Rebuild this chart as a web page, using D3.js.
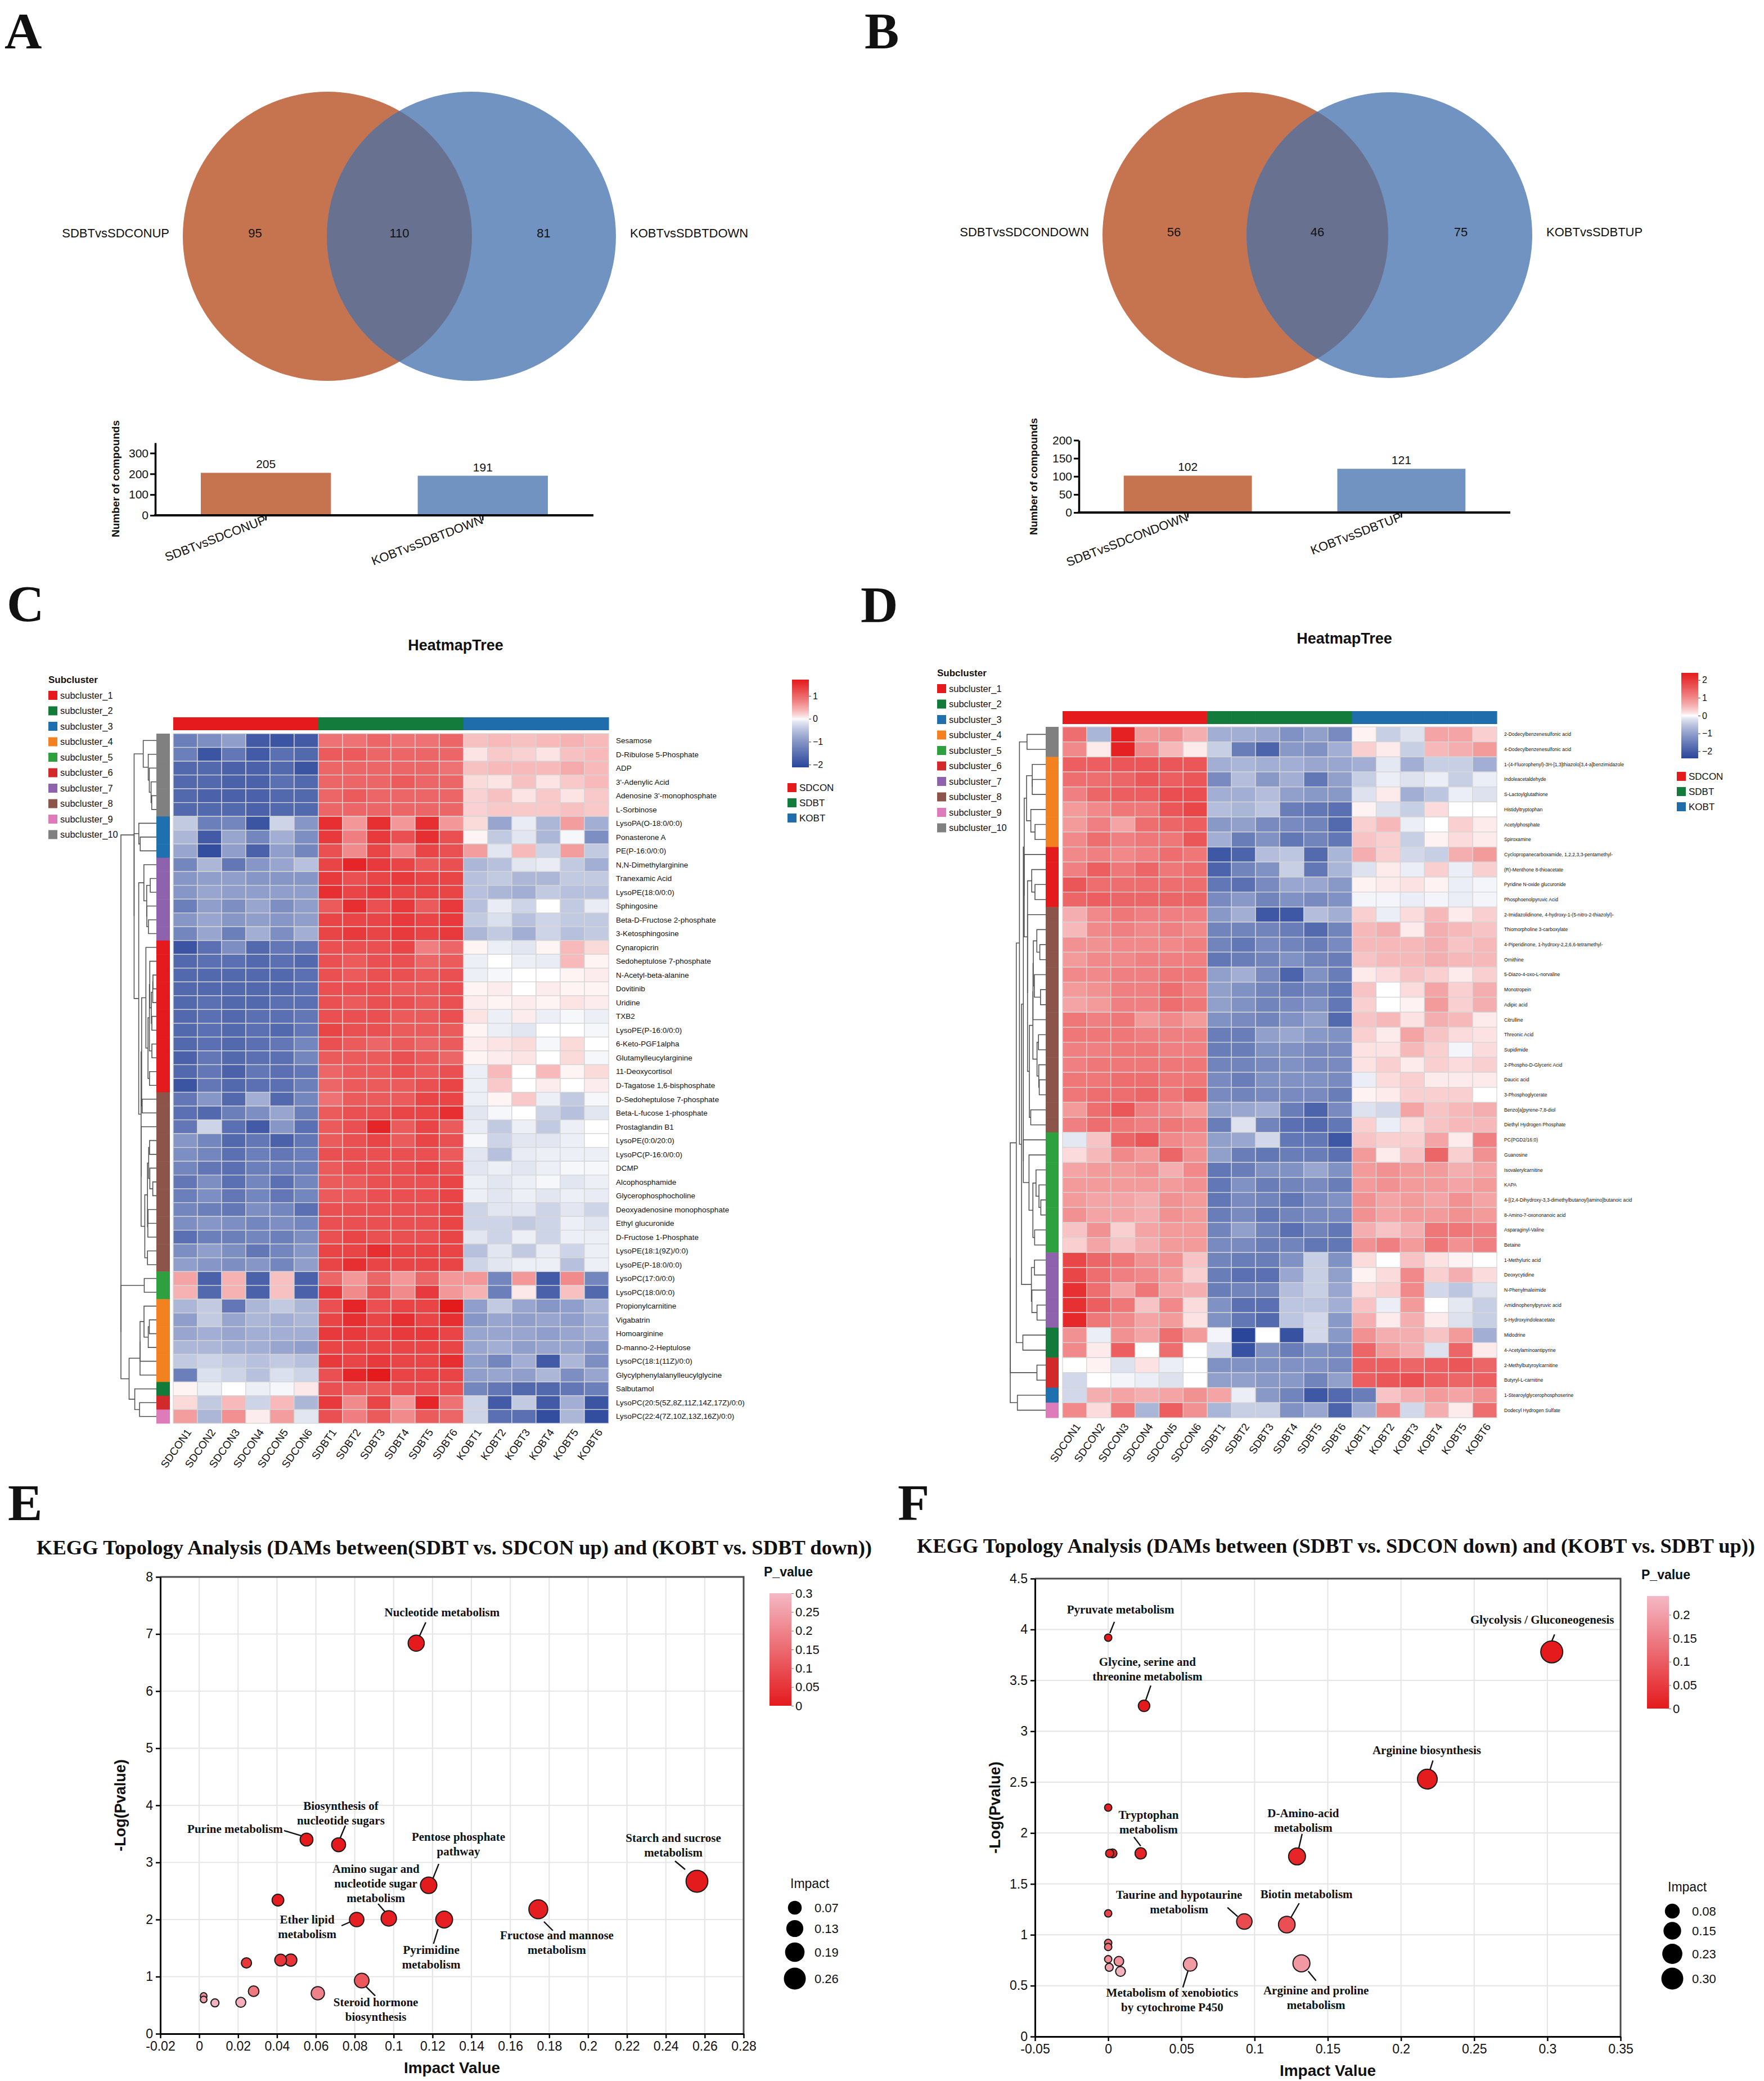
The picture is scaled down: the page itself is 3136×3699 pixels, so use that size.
<!DOCTYPE html>
<html>
<head>
<meta charset="utf-8">
<script src="https://cdn.jsdelivr.net/npm/d3@7"></script>
<style>
body { margin: 0; background: #fff; }
text { font-family: "Liberation Sans", Arial, sans-serif; fill: #111; }
.serif { font-family: "Liberation Serif", "Times New Roman", serif; font-weight: bold; }
.panel { font-family: "Liberation Serif", "Times New Roman", serif; font-weight: bold; font-size: 92px; }
</style>
</head>
<body>
<div id="chart"></div>
<script>

// ---------- data ----------
var vennA_sets = ['SDBTvsSDCONUP', 'KOBTvsSDBTDOWN'];
var vennA_counts = [95, 110, 81];
var barA_values = [205, 191];

var vennB_sets = ['SDBTvsSDCONDOWN', 'KOBTvsSDBTUP'];
var vennB_counts = [56, 46, 75];
var barB_values = [102, 121];

var sampleNames = ['SDCON1','SDCON2','SDCON3','SDCON4','SDCON5','SDCON6',
	'SDBT1','SDBT2','SDBT3','SDBT4','SDBT5','SDBT6',
	'KOBT1','KOBT2','KOBT3','KOBT4','KOBT5','KOBT6'];
var groupNames = ['SDCON', 'SDBT', 'KOBT'];
var sampleGroup = [0,0,0,0,0,0,1,1,1,1,1,1,2,2,2,2,2,2];
var subclusterNames = ['subcluster_1','subcluster_2','subcluster_3','subcluster_4','subcluster_5',
	'subcluster_6','subcluster_7','subcluster_8','subcluster_9','subcluster_10'];

var heatC_rows = ['Sesamose','D-Ribulose 5-Phosphate','ADP',"3'-Adenylic Acid","Adenosine 3'-monophosphate",'L-Sorbinose',
	'LysoPA(O-18:0/0:0)','Ponasterone A','PE(P-16:0/0:0)','N,N-Dimethylarginine','Tranexamic Acid','LysoPE(18:0/0:0)',
	'Sphingosine','Beta-D-Fructose 2-phosphate','3-Ketosphingosine','Cynaropicrin','Sedoheptulose 7-phosphate',
	'N-Acetyl-beta-alanine','Dovitinib','Uridine','TXB2','LysoPE(P-16:0/0:0)','6-Keto-PGF1alpha','Glutamylleucylarginine',
	'11-Deoxycortisol','D-Tagatose 1,6-bisphosphate','D-Sedoheptulose 7-phosphate','Beta-L-fucose 1-phosphate',
	'Prostaglandin B1','LysoPE(0:0/20:0)','LysoPC(P-16:0/0:0)','DCMP','Alcophosphamide','Glycerophosphocholine',
	'Deoxyadenosine monophosphate','Ethyl glucuronide','D-Fructose 1-Phosphate','LysoPE(18:1(9Z)/0:0)','LysoPE(P-18:0/0:0)',
	'LysoPC(17:0/0:0)','LysoPC(18:0/0:0)','Propionylcarnitine','Vigabatrin','Homoarginine','D-manno-2-Heptulose',
	'LysoPC(18:1(11Z)/0:0)','Glycylphenylalanylleucylglycine','Salbutamol','LysoPC(20:5(5Z,8Z,11Z,14Z,17Z)/0:0)',
	'LysoPC(22:4(7Z,10Z,13Z,16Z)/0:0)'];
var heatC_sub = [10,10,10,10,10,10,3,3,3,7,7,7,7,7,7,1,1,1,1,1,1,1,1,1,1,1,
	8,8,8,8,8,8,8,8,8,8,8,8,8,5,5,4,4,4,4,4,4,2,6,9];
var heatC_values = [
	[-1.3,-1.1,-0.9,-1.8,-1.9,-1.8, 0.9,0.9,1.0,0.9,0.9,1.0, 0.3,0.35,0.3,0.35,0.4,0.35],
	[-1.3,-1.9,-1.4,-1.8,-1.5,-1.6, 1.1,1.1,1.0,1.0,1.0,1.0, 0.1,0.25,0.2,0.1,0.3,0.35],
	[-1.6,-1.6,-1.7,-1.7,-1.6,-1.9, 1.0,1.0,1.0,1.0,1.0,0.9, 0.3,0.35,0.35,0.35,0.45,0.35],
	[-1.6,-1.6,-1.7,-1.7,-1.5,-1.6, 1.0,1.0,1.0,1.1,1.0,1.0, 0.15,0.1,0.3,0.1,0.25,0.35],
	[-1.6,-1.7,-1.7,-1.7,-1.6,-1.6, 1.0,1.1,1.0,1.0,1.0,1.0, 0.2,0.3,0.1,0.25,0.1,0.25],
	[-1.6,-1.6,-1.6,-1.7,-1.6,-1.6, 1.0,1.0,1.0,1.0,1.0,1.0, 0.2,0.25,0.25,0.25,0.3,0.25],
	[-0.4,-1.3,-1.2,-1.9,-0.3,-1.0, 1.5,0.6,1.5,0.6,1.5,0.6, 0.15,-0.8,-0.1,-0.6,0.55,-0.7],
	[-0.6,-1.8,-0.8,-1.2,-0.7,-1.1, 1.4,0.8,1.4,1.2,1.5,1.2, 0.03,-0.4,-0.15,-0.6,-0.03,-1.1],
	[-0.8,-2.0,-0.9,-1.7,-0.9,-1.2, 1.2,0.7,1.3,0.8,1.3,1.2, 0.55,-0.15,0.35,-0.3,0.55,-0.4],
	[-1.2,-0.6,-1.4,-1.0,-0.8,-0.5, 1.3,1.6,1.4,1.3,1.1,1.2, -0.6,-0.5,-0.15,-0.1,-0.4,-0.7],
	[-1.0,-0.9,-0.9,-1.0,-1.0,-1.0, 1.4,1.2,1.3,1.4,1.3,1.3, -0.5,-0.4,-0.6,-0.6,-0.4,-0.4],
	[-1.0,-0.8,-0.9,-0.9,-0.9,-0.9, 1.5,1.3,1.4,1.3,1.3,1.3, -0.5,-0.6,-0.7,-0.4,-0.5,-0.5],
	[-1.3,-0.9,-1.1,-0.8,-1.1,-0.9, 1.1,1.5,1.2,1.4,1.1,1.4, -0.5,-0.1,-0.3,0.0,-0.4,-0.1],
	[-1.0,-0.8,-1.0,-0.9,-1.0,-0.9, 1.3,1.3,1.3,1.4,1.3,1.4, -0.4,-0.2,-0.5,-0.3,-0.4,-0.4],
	[-1.2,-0.8,-1.3,-0.7,-1.1,-0.7, 1.3,1.4,1.3,1.4,1.3,1.4, -0.6,-0.4,-0.7,-0.3,-0.5,-0.4],
	[-1.9,-1.5,-1.1,-1.6,-1.4,-1.4, 1.2,1.2,1.2,1.3,0.8,1.0, 0.03,-0.08,-0.15,0.03,0.35,0.15],
	[-1.6,-1.5,-1.5,-1.6,-1.5,-1.6, 1.2,1.1,1.2,1.2,1.0,1.1, -0.08,0.0,-0.08,-0.1,0.35,0.03],
	[-1.6,-1.6,-1.6,-1.6,-1.6,-1.5, 1.2,1.1,1.2,1.2,1.1,1.2, -0.08,-0.03,0.0,0.0,0.03,0.06],
	[-1.6,-1.6,-1.6,-1.6,-1.6,-1.5, 1.2,1.2,1.2,1.1,1.1,1.2, 0.03,0.06,0.0,0.06,0.03,0.03],
	[-1.6,-1.5,-1.6,-1.6,-1.5,-1.5, 1.2,1.1,1.2,1.2,1.1,1.2, 0.06,0.03,0.06,0.03,0.1,0.06],
	[-1.6,-1.5,-1.6,-1.5,-1.5,-1.4, 1.2,1.2,1.2,1.1,1.1,1.2, 0.1,-0.08,0.06,-0.08,-0.03,-0.08],
	[-1.6,-1.5,-1.6,-1.5,-1.6,-1.4, 1.3,1.2,1.2,1.1,1.1,1.1, 0.03,-0.08,-0.15,0.0,0.0,-0.03],
	[-1.6,-1.5,-1.6,-1.5,-1.4,-1.2, 1.2,1.1,1.0,1.1,1.0,1.1, 0.06,0.1,0.15,-0.03,0.15,0.0],
	[-1.7,-1.4,-1.6,-1.5,-1.5,-1.2, 1.1,1.1,1.1,1.2,1.1,1.0, 0.03,0.06,0.1,0.0,0.15,-0.03],
	[-1.6,-1.4,-1.7,-1.4,-1.5,-1.4, 1.0,1.1,1.1,1.2,1.1,1.2, -0.08,0.35,0.0,0.35,0.03,0.15],
	[-1.9,-1.4,-1.6,-1.5,-1.5,-1.3, 1.0,1.1,1.1,1.1,1.2,1.3, -0.08,0.25,0.0,0.06,0.0,0.06],
	[-1.4,-1.0,-1.6,-0.7,-1.6,-1.2, 0.9,1.1,1.1,1.1,1.3,1.3, -0.08,0.03,0.25,-0.08,-0.4,-0.03],
	[-1.5,-1.6,-1.3,-1.1,-0.8,-1.3, 1.1,1.2,1.2,1.3,1.3,1.5, -0.15,-0.03,0.0,-0.3,-0.5,-0.15],
	[-1.4,-0.3,-1.5,-1.8,-1.0,-1.5, 1.1,1.2,1.6,1.1,1.3,1.1, -0.1,-0.4,-0.08,-0.4,-0.08,0.0],
	[-1.0,-1.2,-1.6,-1.4,-1.7,-1.4, 1.1,1.2,1.3,1.1,1.3,1.2, -0.03,-0.3,-0.15,-0.15,-0.08,0.0],
	[-1.1,-1.2,-1.5,-1.3,-1.4,-1.3, 1.2,1.2,1.2,1.2,1.2,1.1, -0.15,-0.5,-0.1,-0.08,-0.08,-0.08],
	[-1.2,-1.4,-1.5,-1.3,-1.3,-1.3, 1.1,1.2,1.2,1.2,1.3,1.2, -0.15,-0.08,-0.15,-0.08,-0.03,-0.03],
	[-1.4,-1.1,-1.5,-1.2,-1.5,-1.2, 1.1,1.1,1.2,1.2,1.2,1.3, -0.08,-0.15,-0.08,-0.03,-0.15,-0.08],
	[-1.3,-1.1,-1.4,-1.2,-1.4,-1.2, 1.1,1.1,1.2,1.2,1.2,1.3, -0.08,-0.15,-0.08,-0.15,-0.08,-0.1],
	[-1.2,-1.3,-1.4,-1.1,-1.2,-1.5, 1.2,1.2,1.2,1.2,1.2,1.3, -0.3,-0.15,-0.15,-0.3,-0.15,-0.3],
	[-1.1,-1.0,-1.1,-1.2,-1.1,-1.2, 1.2,1.2,1.2,1.2,1.2,1.3, -0.3,-0.3,-0.4,-0.3,-0.08,-0.15],
	[-1.5,-1.3,-1.3,-1.2,-1.3,-1.1, 1.2,1.3,1.2,1.2,1.2,1.3, -0.15,-0.3,-0.08,-0.3,-0.08,-0.08],
	[-1.1,-0.9,-1.1,-1.4,-1.2,-1.0, 1.3,1.3,1.5,1.3,1.3,1.3, -0.5,-0.15,-0.4,-0.1,-0.3,-0.08],
	[-0.9,-1.0,-1.1,-1.0,-1.2,-0.9, 1.3,1.5,1.3,1.3,1.3,1.3, -0.3,-0.15,-0.08,-0.08,-0.5,-0.08],
	[0.5,-1.7,0.4,-1.7,0.3,-1.7, 1.0,0.6,1.0,0.6,1.0,0.6, 0.6,-1.2,0.6,-1.8,0.7,-1.2],
	[0.4,-1.6,0.4,-1.7,0.3,-1.7, 1.4,0.7,1.2,0.7,1.4,0.6, 0.4,-1.3,0.08,-1.7,0.3,-1.6],
	[-0.6,-0.4,-1.4,-0.6,-0.4,-0.6, 1.2,1.6,1.2,1.3,1.3,1.7, -0.9,-0.4,-0.8,-1.0,-0.9,-0.6],
	[-0.9,-0.4,-0.8,-0.6,-0.7,-0.6, 1.3,1.5,1.3,1.5,1.3,1.5, -1.0,-0.8,-0.9,-0.8,-0.9,-0.7],
	[-0.8,-0.7,-0.8,-0.7,-0.7,-0.7, 1.4,1.4,1.3,1.4,1.4,1.3, -0.8,-0.8,-0.8,-0.9,-0.8,-0.7],
	[-0.6,-0.6,-0.7,-0.7,-0.8,-0.9, 1.3,1.3,1.3,1.3,1.3,1.3, -0.8,-0.7,-0.9,-0.8,-0.8,-1.0],
	[-0.4,-0.3,-0.4,-0.5,-0.4,-0.5, 1.4,1.3,1.4,1.3,1.3,1.5, -0.9,-1.2,-0.7,-1.8,-0.6,-1.1],
	[-1.3,-0.2,-0.3,-0.5,-0.2,-0.3, 1.2,1.6,1.7,1.3,1.3,1.3, -0.9,-0.8,-0.9,-0.6,-1.1,-0.8],
	[0.03,-0.08,0.0,-0.08,-0.03,0.08, 1.2,1.1,1.1,1.2,1.2,1.2, -1.2,-1.4,-1.6,-1.6,-1.4,-1.3],
	[0.15,-0.4,0.35,-0.3,0.35,-0.6, 1.4,0.7,1.3,0.6,1.6,0.9, -0.3,-1.8,-0.4,-1.8,-0.7,-1.9],
	[0.55,-0.6,0.65,0.06,0.55,-0.15, 1.2,0.8,1.1,0.7,1.1,1.0, -0.3,-1.5,-1.5,-2.0,-0.6,-2.0]
];

var heatD_rows = ['2-Dodecylbenzenesulfonic acid','4-Dodecylbenzenesulfonic acid',
	'1-(4-Fluorophenyl)-3H-[1,3]thiazolo[3,4-a]benzimidazole','Indoleacetaldehyde','S-Lactoylglutathione',
	'Histidyltryptophan','Acetylphosphate','Spiroxamine','Cyclopropanecarboxamide, 1,2,2,3,3-pentamethyl-',
	'(R)-Menthone 8-thioacetate','Pyridine N-oxide glucuronide','Phosphoenolpyruvic Acid',
	'2-Imidazolidinone, 4-hydroxy-1-(5-nitro-2-thiazolyl)-','Thiomorpholine 3-carboxylate',
	'4-Piperidinone, 1-hydroxy-2,2,6,6-tetramethyl-','Ornithine','5-Diazo-4-oxo-L-norvaline','Monotropein',
	'Adipic acid','Citrulline','Threonic Acid','Supidimide','2-Phospho-D-Glyceric Acid','Daucic acid',
	'3-Phosphoglycerate','Benzo[a]pyrene-7,8-diol','Diethyl Hydrogen Phosphate','PC(PGD2/16:0)','Guanosine',
	'Isovalerylcarnitine','KAPA','4-[(2,4-Dihydroxy-3,3-dimethylbutanoyl)amino]butanoic acid',
	'8-Amino-7-oxononanoic acid','Asparaginyl-Valine','Betaine','1-Methyluric acid','Deoxycytidine',
	'N-Phenylmaleimide','Amidinophenylpyruvic acid','5-Hydroxyindoleacetate','Midodrine',
	'4-Acetylaminoantipyrine','2-Methylbutyroylcarnitine','Butyryl-L-carnitine',
	'1-Stearoylglycerophosphoserine','Dodecyl Hydrogen Sulfate'];
var heatD_sub = [10,10,4,4,4,4,4,4,1,1,1,1,8,8,8,8,8,8,8,8,8,8,8,8,8,8,8,
	5,5,5,5,5,5,5,5,7,7,7,7,7,2,2,6,6,3,9];
var heatD_values = [
	[1.3,-0.7,2.3,0.8,0.9,0.6, -0.8,-0.8,-0.9,-1.2,-1.0,-1.3, 0.05,-0.4,-0.2,0.7,0.7,0.3],
	[1.0,0.1,2.3,1.0,0.5,0.1, -0.4,-1.5,-1.9,-1.1,-1.2,-0.8, 0.3,0.1,-0.4,0.5,0.6,0.8],
	[1.5,1.5,1.6,1.6,1.6,1.6, -0.8,-0.7,-0.8,-0.8,-0.9,-0.9, -0.8,-0.15,-0.8,-0.4,-0.4,-0.8],
	[1.3,1.3,1.4,1.6,1.5,1.6, -1.3,-0.6,-1.1,-0.8,-1.6,-1.0, -0.4,-0.1,-0.2,-0.1,-0.4,-0.1],
	[1.1,1.4,1.5,1.5,1.7,1.7, -0.8,-0.8,-0.6,-1.0,-1.1,-1.1, -0.2,0.1,-0.8,-0.5,-0.1,-0.2],
	[0.8,1.0,1.2,1.2,1.6,1.8, -0.6,-0.7,-0.5,-1.5,-1.6,-1.7, 0.05,-0.2,-0.4,0.2,0.0,0.0],
	[0.8,1.1,0.7,1.3,1.4,1.5, -1.1,-1.0,-1.3,-1.3,-1.4,-1.8, 0.3,0.5,-0.1,0.0,0.3,0.1],
	[1.0,1.3,1.1,1.2,1.2,1.6, -0.8,-1.5,-1.2,-1.6,-1.4,-1.6, 0.4,0.3,-0.4,0.05,0.2,0.1],
	[1.0,1.1,1.0,1.1,1.3,1.2, -2.1,-1.9,-0.6,-0.5,-1.8,-0.7, 0.6,0.3,-0.3,-0.4,0.6,0.8],
	[1.1,1.5,1.2,1.4,1.2,1.3, -1.9,-1.4,-1.2,-0.4,-1.6,-0.7, -0.2,0.1,-0.1,0.3,-0.1,0.3],
	[1.6,1.3,1.3,1.3,1.3,1.3, -1.6,-1.7,-1.3,-0.9,-0.9,-1.1, 0.05,0.1,0.15,0.05,-0.1,-0.05],
	[1.4,1.5,1.4,1.4,1.4,1.4, -1.3,-1.1,-1.4,-1.2,-1.3,-1.2, -0.05,-0.05,-0.1,-0.05,-0.1,-0.05],
	[0.6,1.0,1.2,1.1,1.1,1.1, -1.1,-0.8,-2.1,-2.1,-0.6,-0.8, 0.3,-0.1,0.2,0.5,0.1,0.3],
	[0.5,1.0,1.1,1.0,1.1,1.0, -1.4,-1.4,-1.4,-1.5,-1.8,-1.4, 0.5,0.6,0.1,0.6,0.5,0.4],
	[0.9,0.9,1.0,1.0,1.0,1.1, -1.4,-1.6,-1.3,-1.4,-1.5,-1.3, 0.5,0.5,0.5,0.6,0.4,0.5],
	[0.8,1.0,1.0,1.1,1.1,1.1, -1.6,-1.5,-1.4,-1.2,-1.4,-1.5, 0.4,0.5,0.5,0.6,0.5,0.5],
	[1.0,1.0,1.1,1.1,1.2,1.2, -1.0,-0.8,-1.3,-1.9,-1.2,-1.5, 0.1,0.2,0.4,0.3,0.1,0.3],
	[0.8,0.9,1.1,1.1,1.3,1.1, -1.0,-1.2,-1.4,-1.5,-1.4,-1.6, 0.4,0.0,0.2,0.7,0.3,0.6],
	[0.7,0.8,1.1,1.1,1.3,1.2, -1.0,-1.2,-1.4,-1.3,-1.2,-1.6, 0.3,0.0,0.05,0.8,0.3,0.6],
	[1.2,1.1,1.2,0.8,1.0,0.8, -1.2,-1.3,-1.4,-1.2,-1.0,-1.8, 0.4,0.5,0.15,0.6,0.5,0.1],
	[1.2,1.2,1.2,1.1,1.1,1.1, -1.5,-1.5,-1.0,-0.9,-1.1,-1.2, 0.3,0.1,0.7,0.4,0.2,0.15],
	[1.1,1.1,1.2,1.2,1.1,1.1, -1.5,-1.5,-1.2,-1.2,-1.3,-1.3, 0.15,0.15,0.5,0.3,-0.05,0.2],
	[1.1,1.2,1.2,1.2,1.2,1.2, -1.4,-1.4,-1.3,-1.2,-1.3,-1.3, 0.15,0.3,0.1,0.3,0.2,0.3],
	[1.2,1.2,1.3,1.3,1.2,1.2, -1.3,-1.5,-1.2,-1.2,-1.2,-1.3, -0.1,0.2,0.3,0.1,0.1,0.1],
	[1.2,1.3,1.3,1.4,1.2,1.4, -1.3,-1.4,-1.3,-1.3,-1.3,-1.5, 0.05,0.1,0.3,0.3,0.3,0.0],
	[0.8,1.3,1.6,1.1,1.0,0.8, -1.0,-0.9,-0.8,-1.5,-1.9,-1.3, -0.2,-0.3,0.7,0.4,0.5,0.6],
	[1.1,1.3,1.2,1.1,1.2,1.1, -1.5,-0.2,-1.4,-1.7,-1.8,-1.6, 0.3,-0.1,0.2,0.4,0.5,0.5],
	[-0.15,0.4,1.4,1.6,1.0,0.9, -1.0,-0.9,-0.3,-1.6,-1.6,-2.1, 0.4,0.3,0.3,0.7,0.1,1.1],
	[0.2,0.5,1.0,0.8,1.4,0.9, -1.0,-1.5,-1.6,-1.5,-1.5,-1.7, 0.8,0.1,0.4,1.4,0.3,0.9],
	[0.7,0.8,0.8,0.9,0.6,1.0, -1.6,-1.5,-1.2,-1.2,-0.9,-1.2, 0.8,0.9,0.8,0.8,0.6,0.7],
	[0.8,0.8,0.8,0.8,0.8,0.9, -1.6,-1.2,-1.5,-1.4,-1.3,-1.5, 0.8,0.9,0.8,0.8,0.7,0.8],
	[0.8,0.7,0.7,0.6,0.9,0.8, -1.6,-1.3,-1.4,-1.6,-1.3,-1.2, 0.9,0.7,0.8,0.7,0.9,0.7],
	[0.9,0.7,0.7,0.6,0.9,0.8, -1.5,-1.3,-1.6,-1.4,-1.3,-1.3, 0.9,0.7,0.8,0.8,0.9,0.8],
	[0.4,0.9,0.3,0.7,0.8,0.8, -1.4,-1.0,-1.4,-1.7,-1.4,-1.6, 0.6,0.4,0.6,1.2,1.2,1.1],
	[0.3,0.7,0.4,0.6,0.8,0.8, -1.3,-1.3,-1.5,-1.4,-1.6,-1.6, 0.9,1.1,0.8,1.2,0.9,1.1],
	[1.8,1.4,1.2,0.9,0.9,0.4, -1.4,-1.5,-1.5,-1.2,-0.4,-1.2, 0.2,0.0,0.4,0.15,0.05,0.0],
	[1.8,1.3,1.1,1.0,0.8,0.3, -1.5,-1.7,-1.7,-0.9,-0.4,-1.0, 0.05,0.2,1.0,0.3,0.6,0.2],
	[2.1,1.3,0.7,1.2,0.7,0.6, -1.5,-1.4,-1.4,-0.6,-0.4,-0.9, 0.2,0.3,1.0,-0.3,-0.5,-0.2],
	[2.1,1.5,1.2,0.4,1.0,0.2, -1.2,-1.7,-1.7,-0.5,-0.5,-0.8, 0.4,-0.1,0.8,0.0,-0.15,-0.4],
	[2.2,1.2,1.0,0.7,0.8,0.15, -1.2,-1.6,-1.8,-0.5,-0.3,-1.1, 0.6,0.1,0.6,0.1,-0.2,-0.4],
	[0.9,-0.1,0.9,0.7,1.3,0.8, -0.05,-2.4,0.0,-2.2,-0.3,-1.1, 0.9,0.6,0.6,0.4,0.8,-0.8],
	[1.0,0.1,1.5,0.0,1.3,0.0, -0.3,-2.2,-1.2,-1.5,-1.2,-1.3, 1.4,0.8,0.6,-0.2,1.4,0.1],
	[0.0,0.05,-0.2,0.15,-0.1,0.0, -1.2,-1.2,-1.2,-1.2,-1.2,-1.3, 1.5,1.5,1.4,1.5,1.6,1.4],
	[-0.3,0.0,-0.05,-0.1,-0.2,0.0, -1.0,-1.0,-1.1,-1.1,-1.4,-1.0, 1.5,1.6,1.7,1.5,1.4,1.5],
	[-0.3,0.6,0.7,0.6,0.7,0.9, 0.7,-0.1,-1.1,-1.4,-2.1,-1.8, -1.5,0.4,0.6,0.8,0.7,0.9],
	[1.0,0.2,1.2,-0.7,1.5,0.9, -0.7,-0.4,-0.4,-1.2,-0.9,-1.9, -0.8,1.0,-0.3,0.6,0.1,1.3]
];

var keggE_names = ['Nucleotide metabolism','Purine metabolism','Biosynthesis of nucleotide sugars',
	'Pentose phosphate pathway','Starch and sucrose metabolism','','Ether lipid metabolism',
	'Amino sugar and nucleotide sugar metabolism','Pyrimidine metabolism','Fructose and mannose metabolism',
	'','','','Steroid hormone biosynthesis','','','','','',''];
var keggE_impact = [0.1116,0.0552,0.0717,0.118,0.256,0.0405,0.081,0.0975,0.126,0.1744,
	0.0243,0.0419,0.0471,0.0836,0.061,0.028,0.0214,0.0081,0.0023,0.0023];
var keggE_logp = [6.84,3.40,3.31,2.60,2.67,2.34,2.00,2.02,2.00,2.18,
	1.24,1.29,1.29,0.93,0.71,0.745,0.55,0.54,0.66,0.60];

var keggF_names = ['Pyruvate metabolism','Glycine, serine and threonine metabolism','Glycolysis / Gluconeogenesis',
	'Arginine biosynthesis','','','','Tryptophan metabolism','D-Amino-acid metabolism','',
	'Taurine and hypotaurine metabolism','Biotin metabolism','','','','','','',
	'Metabolism of xenobiotics by cytochrome P450','Arginine and proline metabolism'];
var keggF_impact = [0.0,0.0245,0.303,0.218,0.0,0.001,0.003,0.0222,0.129,0.0,
	0.093,0.122,0.0,0.0,0.0,0.0073,0.0007,0.0084,0.056,0.132];
var keggF_logp = [3.92,3.25,3.78,2.53,2.25,1.80,1.80,1.80,1.77,1.21,
	1.13,1.10,0.92,0.88,0.76,0.74,0.68,0.64,0.71,0.72];

// ---------- look ----------
var vennColors = { left: '#C67450', right: '#7193C1', both: '#68718F' };
var groupColors = ['#E41A1C', '#137B3B', '#1F6DAB'];
var subclusterColors = ['#E41A1C','#137B3A','#1F70AE','#F4811F','#2FA03F','#D22A2A','#8F62AE','#8B5549','#DE7BBB','#808080'];

// label layout for bubble charts (pixel offsets from the bubble)
var labelLayoutE = {
	'Nucleotide metabolism': { lines: ['Nucleotide metabolism'], dx: 46, dy: -55, lead: [17,-37,6,-13] },
	'Purine metabolism': { lines: ['Purine metabolism'], dx: -127, dy: -19, lead: [-40,-16,-10,-7] },
	'Biosynthesis of nucleotide sugars': { lines: ['Biosynthesis of','nucleotide sugars'], dx: 4, dy: -69, lead: [12,-34,2,-10] },
	'Pentose phosphate pathway': { lines: ['Pentose phosphate','pathway'], dx: 53, dy: -86, lead: [18,-38,8,-13] },
	'Starch and sucrose metabolism': { lines: ['Starch and sucrose','metabolism'], dx: -42, dy: -77, lead: [-39,-36,-21,-21] },
	'Amino sugar and nucleotide sugar metabolism': { lines: ['Amino sugar and','nucleotide sugar','metabolism'], dx: -23, dy: -88, lead: [-19,-26,-7,-12] },
	'Ether lipid metabolism': { lines: ['Ether lipid','metabolism'], dx: -88, dy: 0, lead: [-27,11,-11,4] },
	'Pyrimidine metabolism': { lines: ['Pyrimidine','metabolism'], dx: -23, dy: 54, lead: [-19,43,-11,17] },
	'Fructose and mannose metabolism': { lines: ['Fructose and mannose','metabolism'], dx: 33, dy: 46, lead: [26,38,10,22] },
	'Steroid hormone biosynthesis': { lines: ['Steroid hormone','biosynthesis'], dx: 25, dy: 38, lead: [24,27,8,11] }
};
var labelLayoutF = {
	'Pyruvate metabolism': { lines: ['Pyruvate metabolism'], dx: 22, dy: -50, lead: [11,-28,3,-8] },
	'Glycine, serine and threonine metabolism': { lines: ['Glycine, serine and','threonine metabolism'], dx: 6, dy: -78, lead: [12,-36,3,-10] },
	'Glycolysis / Gluconeogenesis': { lines: ['Glycolysis / Gluconeogenesis'], dx: -17, dy: -58, lead: [5,-31,-2,-14] },
	'Arginine biosynthesis': { lines: ['Arginine biosynthesis'], dx: -1, dy: -52, lead: [10,-33,4,-14] },
	'Tryptophan metabolism': { lines: ['Tryptophan','metabolism'], dx: 14, dy: -69, lead: [-12,-29,0,-13] },
	'D-Amino-acid metabolism': { lines: ['D-Amino-acid','metabolism'], dx: 11, dy: -77, lead: [9,-40,3,-14] },
	'Taurine and hypotaurine metabolism': { lines: ['Taurine and hypotaurine','metabolism'], dx: -116, dy: -48, lead: [-30,-25,-12,-9] },
	'Biotin metabolism': { lines: ['Biotin metabolism'], dx: 35, dy: -54, lead: [22,-38,7,-12] },
	'Metabolism of xenobiotics by cytochrome P450': { lines: ['Metabolism of xenobiotics','by cytochrome P450'], dx: -32, dy: 50, lead: [-13,41,-4,12] },
	'Arginine and proline metabolism': { lines: ['Arginine and proline','metabolism'], dx: 26, dy: 48, lead: [26,31,12,14] }
};

var W = 3136, H = 3699;
var svg = d3.select('#chart').append('svg')
	.attr('width', W).attr('height', H)
	.attr('viewBox', '0 0 ' + W + ' ' + H);
svg.append('rect').attr('width', W).attr('height', H).attr('fill', '#fff');
var defs = svg.append('defs');

// panel letters
[['A', 8, 86], ['B', 1537, 86], ['C', 12, 1104], ['D', 1530, 1106], ['E', 14, 2702], ['F', 1596, 2702]]
	.forEach(function (p) {
		svg.append('text').attr('class', 'panel').attr('x', p[1]).attr('y', p[2]).text(p[0]);
	});

// ---------- Venn + bars ----------
function drawVenn(cfg) {
	var g = svg.append('g');
	var id = 'clip' + cfg.key;
	defs.append('clipPath').attr('id', id)
		.append('circle').attr('cx', cfg.cxL).attr('cy', cfg.cy).attr('r', cfg.r);
	g.append('circle').attr('cx', cfg.cxL).attr('cy', cfg.cy).attr('r', cfg.r).attr('fill', vennColors.left);
	g.append('circle').attr('cx', cfg.cxR).attr('cy', cfg.cy).attr('r', cfg.r).attr('fill', vennColors.right);
	g.append('circle').attr('cx', cfg.cxR).attr('cy', cfg.cy).attr('r', cfg.r)
		.attr('fill', vennColors.both).attr('clip-path', 'url(#' + id + ')');

	var ty = cfg.cy - 6;
	var numX = [cfg.cxL - cfg.r / 2, (cfg.cxL + cfg.cxR) / 2, cfg.cxR + cfg.r / 2];
	g.selectAll('text.num').data(cfg.counts).enter().append('text')
		.attr('class', 'num')
		.attr('x', function (d, i) { return numX[i]; })
		.attr('y', ty).attr('dy', '0.35em')
		.attr('text-anchor', 'middle').style('font-size', '22px')
		.text(function (d) { return d; });
	g.append('text').attr('x', cfg.cxL - cfg.r - 24).attr('y', ty).attr('dy', '0.35em')
		.attr('text-anchor', 'end').style('font-size', '22px').text(cfg.sets[0]);
	g.append('text').attr('x', cfg.cxR + cfg.r + 25).attr('y', ty).attr('dy', '0.35em')
		.attr('text-anchor', 'start').style('font-size', '22px').text(cfg.sets[1]);
}

function drawBars(cfg) {
	var g = svg.append('g');
	var x = d3.scaleBand().domain(cfg.sets).range([cfg.x0, cfg.x1]).paddingInner(0.4).paddingOuter(0.21);
	var y = d3.scaleLinear().domain([0, cfg.max]).range([cfg.yb, cfg.yt]);

	g.selectAll('rect.bar').data(cfg.values).enter().append('rect')
		.attr('class', 'bar')
		.attr('x', function (d, i) { return x(cfg.sets[i]); })
		.attr('y', function (d) { return y(d); })
		.attr('width', x.bandwidth())
		.attr('height', function (d) { return y(0) - y(d); })
		.attr('fill', function (d, i) { return i === 0 ? vennColors.left : vennColors.right; });

	g.selectAll('text.val').data(cfg.values).enter().append('text')
		.attr('class', 'val')
		.attr('x', function (d, i) { return x(cfg.sets[i]) + x.bandwidth() / 2; })
		.attr('y', function (d) { return y(d) - 8; })
		.attr('text-anchor', 'middle').style('font-size', '21px')
		.text(function (d) { return d; });

	var ax = g.append('g').attr('transform', 'translate(' + cfg.x0 + ',0)')
		.call(d3.axisLeft(y).tickValues(cfg.ticks).tickSize(9).tickSizeOuter(0).tickPadding(3));
	ax.select('.domain').attr('stroke-width', 3.5);
	ax.selectAll('.tick line').attr('stroke-width', 3);
	ax.selectAll('.tick text').style('font-size', '21px').attr('fill', '#111');

	g.append('line').attr('x1', cfg.x0 - 2).attr('x2', cfg.x1).attr('y1', cfg.yb).attr('y2', cfg.yb)
		.attr('stroke', '#000').attr('stroke-width', 4);

	cfg.sets.forEach(function (s) {
		var cx = x(s) + x.bandwidth() / 2;
		g.append('line').attr('x1', cx).attr('x2', cx).attr('y1', cfg.yb).attr('y2', cfg.yb + 9)
			.attr('stroke', '#000').attr('stroke-width', 2.5);
		g.append('text')
			.attr('transform', 'translate(' + (cx + 2) + ',' + (cfg.yb + 14) + ') rotate(-21)')
			.attr('text-anchor', 'end').style('font-size', '22px').text(s);
	});

	g.append('text')
		.attr('transform', 'translate(' + cfg.titleX + ',' + cfg.titleY + ') rotate(-90)')
		.attr('text-anchor', 'middle').style('font-size', '19px').style('font-weight', 'bold')
		.text('Number of compounds');
}

drawVenn({ key: 'A', cxL: 582, cxR: 838, cy: 420, r: 257, sets: vennA_sets, counts: vennA_counts });
drawVenn({ key: 'B', cxL: 2214, cxR: 2470, cy: 418, r: 254, sets: vennB_sets, counts: vennB_counts });
drawBars({ sets: vennA_sets, values: barA_values, x0: 276, x1: 1055, yb: 916, yt: 787, max: 350,
	ticks: [0, 100, 200, 300], titleX: 212, titleY: 851 });
drawBars({ sets: vennB_sets, values: barB_values, x0: 1918, x1: 2685, yb: 911, yt: 782.5, max: 200,
	ticks: [0, 50, 100, 150, 200], titleX: 1844, titleY: 847 });

// ---------- heatmaps ----------
// contiguous agglomerative clustering, keeps the row order of the figure
function rowTree(values) {
	var dist = values.map(function (a) {
		return values.map(function (b) {
			return Math.sqrt(d3.sum(a, function (v, k) { return (v - b[k]) * (v - b[k]); }));
		});
	});
	var nodes = values.map(function (v, i) { return { leaves: [i], h: 0, pos: i }; });
	while (nodes.length > 1) {
		var best = 0, bd = Infinity;
		for (var i = 0; i < nodes.length - 1; i++) {
			var a = nodes[i], b = nodes[i + 1];
			var d = d3.mean(a.leaves, function (p) { return d3.mean(b.leaves, function (q) { return dist[p][q]; }); });
			if (d < bd) { bd = d; best = i; }
		}
		var l = nodes[best], r = nodes[best + 1];
		nodes.splice(best, 2, {
			leaves: l.leaves.concat(r.leaves),
			h: Math.max(bd, l.h, r.h),
			pos: (l.pos + r.pos) / 2,
			children: [l, r]
		});
	}
	return nodes[0];
}

// white in the middle, ramps faster near zero like the figure's key
function heatColor(lo, hi) {
	var toRed = d3.interpolateRgb('#FFFFFF', '#E41A1C');
	var toBlue = d3.interpolateRgb('#FFFFFF', '#2A469B');
	return function (v) {
		if (v >= 0) return toRed(Math.pow(Math.min(v / hi, 1), 0.75));
		return toBlue(Math.pow(Math.min(v / lo, 1), 0.75));
	};
}

function drawHeatmap(cfg) {
	var g = svg.append('g');
	var n = cfg.rows.length;
	var x = d3.scaleBand().domain(sampleNames).range([cfg.x0, cfg.x1]);
	var y = d3.scaleBand().domain(d3.range(n)).range([cfg.y0, cfg.y1]);
	var color = heatColor(cfg.lo, cfg.hi);

	// title
	g.append('text').attr('x', cfg.titleX).attr('y', cfg.titleY).attr('text-anchor', 'middle')
		.style('font-size', '27px').style('font-weight', 'bold').text('HeatmapTree');

	// column group bar
	g.selectAll('rect.grp').data(sampleNames).enter().append('rect')
		.attr('class', 'grp')
		.attr('x', function (d) { return x(d); })
		.attr('y', cfg.barY0).attr('width', x.bandwidth() + 0.6).attr('height', cfg.barY1 - cfg.barY0)
		.attr('fill', function (d, i) { return groupColors[sampleGroup[i]]; });

	// cells
	var rowsG = g.selectAll('g.row').data(cfg.values).enter().append('g').attr('class', 'row');
	rowsG.selectAll('rect').data(function (d, i) { return d.map(function (v, j) { return { v: v, i: i, j: j }; }); })
		.enter().append('rect')
		.attr('x', function (d) { return x(sampleNames[d.j]); })
		.attr('y', function (d) { return y(d.i); })
		.attr('width', x.bandwidth()).attr('height', y.bandwidth())
		.attr('fill', function (d) { return color(d.v); })
		.attr('stroke', '#d6d6d6').attr('stroke-width', 1.3);

	// row labels
	g.selectAll('text.rl').data(cfg.rows).enter().append('text')
		.attr('class', 'rl')
		.attr('x', cfg.x1 + 13)
		.attr('y', function (d, i) { return y(i) + y.bandwidth() / 2; })
		.attr('dy', '0.35em').style('font-size', cfg.rowFont + 'px').attr('fill', '#222')
		.text(function (d) { return d; });

	// column labels
	g.selectAll('text.cl').data(sampleNames).enter().append('text')
		.attr('class', 'cl')
		.attr('transform', function (d) {
			return 'translate(' + (x(d) + x.bandwidth() / 2 + 6) + ',' + (cfg.y1 + 12) + ') rotate(-55)';
		})
		.attr('text-anchor', 'end').attr('dy', '0.35em').style('font-size', '19px')
		.text(function (d) { return d; });

	// subcluster side bar
	g.selectAll('rect.sub').data(cfg.sub).enter().append('rect')
		.attr('class', 'sub')
		.attr('x', cfg.subX0).attr('width', cfg.subX1 - cfg.subX0)
		.attr('y', function (d, i) { return y(i); })
		.attr('height', y.bandwidth() + 0.5)
		.attr('fill', function (d) { return subclusterColors[d - 1]; });

	// dendrogram
	var root = rowTree(cfg.values);
	var hx = d3.scalePow().exponent(0.8).domain([0, root.h]).range([cfg.subX0, cfg.dendX0]);
	var py = function (p) { return cfg.y0 + (p + 0.5) * y.step(); };
	var dg = g.append('g').attr('fill', 'none').attr('stroke', '#555').attr('stroke-width', 1.6);
	(function walk(node) {
		if (!node.children) return;
		var a = node.children[0], b = node.children[1], xn = hx(node.h);
		dg.append('path').attr('d',
			'M' + hx(a.h) + ',' + py(a.pos) + 'H' + xn + 'V' + py(b.pos) + 'H' + hx(b.h));
		walk(a); walk(b);
	})(root);

	// subcluster legend
	g.append('text').attr('x', cfg.legX).attr('y', cfg.legY).style('font-size', '17px')
		.style('font-weight', 'bold').text('Subcluster');
	var items = g.selectAll('g.leg').data(subclusterNames).enter().append('g')
		.attr('class', 'leg')
		.attr('transform', function (d, i) { return 'translate(' + cfg.legX + ',' + (cfg.legY + 22 + i * 27.5) + ')'; });
	items.append('rect').attr('y', -8).attr('width', 16).attr('height', 16)
		.attr('fill', function (d, i) { return subclusterColors[i]; });
	items.append('text').attr('x', 21).attr('dy', '0.35em').style('font-size', '16.5px').text(function (d) { return d; });

	// colour key
	var gid = 'grad' + cfg.key;
	var grad = defs.append('linearGradient').attr('id', gid).attr('x1', 0).attr('x2', 0).attr('y1', 0).attr('y2', 1);
	d3.range(0, 1.0001, 0.025).forEach(function (t) {
		grad.append('stop').attr('offset', t).attr('stop-color', color(cfg.hi + (cfg.lo - cfg.hi) * t));
	});
	var ck = d3.scaleLinear().domain([cfg.hi, cfg.lo]).range([cfg.keyY0, cfg.keyY1]);
	g.append('rect').attr('x', cfg.keyX).attr('y', cfg.keyY0).attr('width', 30).attr('height', cfg.keyY1 - cfg.keyY0)
		.attr('fill', 'url(#' + gid + ')');
	var kax = g.append('g').attr('transform', 'translate(' + (cfg.keyX + 30) + ',0)')
		.call(d3.axisRight(ck).tickValues(cfg.keyTicks).tickSize(4).tickSizeOuter(0).tickFormat(d3.format('d')));
	kax.select('.domain').remove();
	kax.selectAll('.tick line').attr('stroke', '#444');
	kax.selectAll('.tick text').style('font-size', '16px').attr('fill', '#111');

	// group legend
	var gl = g.selectAll('g.gl').data(groupNames).enter().append('g')
		.attr('class', 'gl')
		.attr('transform', function (d, i) { return 'translate(' + cfg.grpX + ',' + (cfg.grpY + i * 27) + ')'; });
	gl.append('rect').attr('y', -8).attr('width', 16).attr('height', 16)
		.attr('fill', function (d, i) { return groupColors[i]; });
	gl.append('text').attr('x', 21).attr('dy', '0.35em').style('font-size', '17px').text(function (d) { return d; });
}

drawHeatmap({ key: 'C', rows: heatC_rows, values: heatC_values, sub: heatC_sub,
	x0: 308, x1: 1082, y0: 1304, y1: 2530, barY0: 1275, barY1: 1298,
	subX0: 278, subX1: 302, dendX0: 215, rowFont: 13.5,
	titleX: 810, titleY: 1156, legX: 86, legY: 1214,
	lo: -2.12, hi: 1.71, keyX: 1408, keyY0: 1208, keyY1: 1364, keyTicks: [1, 0, -1, -2],
	grpX: 1400, grpY: 1400 });

drawHeatmap({ key: 'D', rows: heatD_rows, values: heatD_values, sub: heatD_sub,
	x0: 1889, x1: 2661, y0: 1292, y1: 2520, barY0: 1264, barY1: 1287,
	subX0: 1859, subX1: 1882, dendX0: 1796, rowFont: 8.6,
	titleX: 2390, titleY: 1144, legX: 1666, legY: 1202,
	lo: -2.4, hi: 2.4, keyX: 2989, keyY0: 1196, keyY1: 1348, keyTicks: [2, 1, 0, -1, -2],
	grpX: 2981, grpY: 1380 });

// ---------- KEGG bubble charts ----------
function drawKegg(cfg) {
	var g = svg.append('g');
	var x = d3.scaleLinear().domain(cfg.xDomain).range([cfg.x0, cfg.x1]);
	var y = d3.scaleLinear().domain(cfg.yDomain).range([cfg.yb, cfg.yt]);
	var fill = d3.scaleLinear().domain([0, cfg.pMax]).range(['#E41A1C', '#F4B9C5']).clamp(true);
	var r = d3.scaleSqrt().domain([0, cfg.impMax]).range(cfg.rRange);

	g.append('text').attr('class', 'serif').attr('x', cfg.titleX0).attr('y', cfg.titleY)
		.attr('textLength', cfg.titleW).attr('lengthAdjust', 'spacingAndGlyphs')
		.style('font-size', '35px').text(cfg.title);

	// grid
	g.selectAll('line.gx').data(cfg.xTicks).enter().append('line')
		.attr('x1', function (d) { return x(d); }).attr('x2', function (d) { return x(d); })
		.attr('y1', cfg.yb).attr('y2', cfg.yt).attr('stroke', '#e6e6e6').attr('stroke-width', 2.2);
	g.selectAll('line.gy').data(cfg.yTicks).enter().append('line')
		.attr('y1', function (d) { return y(d); }).attr('y2', function (d) { return y(d); })
		.attr('x1', cfg.x0).attr('x2', cfg.x1).attr('stroke', '#e6e6e6').attr('stroke-width', 2.2);
	g.append('path').attr('d', 'M' + cfg.x0 + ',' + cfg.yt + 'H' + cfg.x1 + 'V' + cfg.yb)
		.attr('fill', 'none').attr('stroke', '#4a4a4a').attr('stroke-width', 3);

	var fmt = function (d) { return String(+d.toFixed(2)); };
	var xa = g.append('g').attr('transform', 'translate(0,' + cfg.yb + ')')
		.call(d3.axisBottom(x).tickValues(cfg.xTicks).tickSize(8).tickSizeOuter(0).tickFormat(fmt).tickPadding(6));
	var ya = g.append('g').attr('transform', 'translate(' + cfg.x0 + ',0)')
		.call(d3.axisLeft(y).tickValues(cfg.yTicks).tickSize(8).tickSizeOuter(0).tickFormat(fmt).tickPadding(5));
	[xa, ya].forEach(function (a) {
		a.select('.domain').attr('stroke-width', 3);
		a.selectAll('.tick line').attr('stroke-width', 2.5);
		a.selectAll('.tick text').style('font-size', '23px').attr('fill', '#111');
	});

	g.append('text').attr('x', (cfg.x0 + cfg.x1) / 2).attr('y', cfg.yb + 70).attr('text-anchor', 'middle')
		.style('font-size', '28px').style('font-weight', 'bold').text('Impact Value');
	g.append('text').attr('transform', 'translate(' + (cfg.x0 - 62) + ',' + ((cfg.yb + cfg.yt) / 2) + ') rotate(-90)')
		.attr('text-anchor', 'middle').style('font-size', '27px').style('font-weight', 'bold').text('-Log(Pvalue)');

	var pts = cfg.impact.map(function (v, i) {
		return { name: cfg.names[i], imp: v, lp: cfg.logp[i], p: Math.pow(10, -cfg.logp[i]) };
	});

	// leaders and labels
	pts.filter(function (d) { return d.name && cfg.layout[d.name]; }).forEach(function (d) {
		var L = cfg.layout[d.name], px = x(d.imp), py = y(d.lp);
		g.append('line').attr('x1', px + L.lead[0]).attr('y1', py + L.lead[1])
			.attr('x2', px + L.lead[2]).attr('y2', py + L.lead[3])
			.attr('stroke', '#111').attr('stroke-width', 2.4);
		L.lines.forEach(function (t, k) {
			g.append('text').attr('class', 'serif').attr('x', px + L.dx).attr('y', py + L.dy + k * 26)
				.attr('dy', '0.35em').attr('text-anchor', 'middle').style('font-size', '21px').text(t);
		});
	});

	// bubbles, small ones on top
	g.selectAll('circle.b').data(pts.slice().sort(function (a, b) { return b.imp - a.imp; })).enter().append('circle')
		.attr('class', 'b')
		.attr('cx', function (d) { return x(d.imp); })
		.attr('cy', function (d) { return y(d.lp); })
		.attr('r', function (d) { return r(d.imp); })
		.attr('fill', function (d) { return fill(d.p); })
		.attr('stroke', '#1a1a1a').attr('stroke-width', 2);

	// P_value key
	g.append('text').attr('x', cfg.pKeyX - 10).attr('y', cfg.pKeyY0 - 30).style('font-size', '23px')
		.style('font-weight', 'bold').text('P_value');
	var gid = 'pg' + cfg.key;
	var grad = defs.append('linearGradient').attr('id', gid).attr('x1', 0).attr('x2', 0).attr('y1', 0).attr('y2', 1);
	grad.append('stop').attr('offset', 0).attr('stop-color', fill(cfg.pMax));
	grad.append('stop').attr('offset', 1).attr('stop-color', fill(0));
	g.append('rect').attr('x', cfg.pKeyX).attr('y', cfg.pKeyY0).attr('width', 39).attr('height', cfg.pKeyY1 - cfg.pKeyY0)
		.attr('fill', 'url(#' + gid + ')');
	var pk = d3.scaleLinear().domain([0, cfg.pMax]).range([cfg.pKeyY1, cfg.pKeyY0]);
	var pa = g.append('g').attr('transform', 'translate(' + (cfg.pKeyX + 39) + ',0)')
		.call(d3.axisRight(pk).tickValues(cfg.pTicks).tickSize(4).tickSizeOuter(0).tickFormat(fmt));
	pa.select('.domain').remove();
	pa.selectAll('.tick line').attr('stroke', '#777');
	pa.selectAll('.tick text').style('font-size', '22px').attr('fill', '#111');

	// Impact key
	g.append('text').attr('x', cfg.iKeyX - 8).attr('y', cfg.iKeyY[0] - 35).style('font-size', '23px').text('Impact');
	cfg.iKeyVals.forEach(function (v, i) {
		g.append('circle').attr('cx', cfg.iKeyX).attr('cy', cfg.iKeyY[i]).attr('r', r(v)).attr('fill', '#000');
		g.append('text').attr('x', cfg.iKeyX + 35).attr('y', cfg.iKeyY[i]).attr('dy', '0.35em')
			.style('font-size', '22px').text(v.toFixed(2));
	});
}

drawKegg({ key: 'E', names: keggE_names, impact: keggE_impact, logp: keggE_logp, layout: labelLayoutE,
	title: 'KEGG Topology Analysis (DAMs between(SDBT vs. SDCON up) and (KOBT vs. SDBT down))',
	titleX0: 65, titleY: 2763, titleW: 1485,
	x0: 285, x1: 1322, yb: 3615, yt: 2803, xDomain: [-0.02, 0.28], yDomain: [0, 8],
	xTicks: d3.range(-2, 29, 2).map(function (v) { return v / 100; }), yTicks: d3.range(0, 9),
	pMax: 0.3, pTicks: [0, 0.05, 0.1, 0.15, 0.2, 0.25, 0.3], impMax: 0.26, rRange: [4.5, 19.5],
	pKeyX: 1368, pKeyY0: 2832, pKeyY1: 3032,
	iKeyX: 1413, iKeyY: [3391, 3428, 3470, 3517], iKeyVals: [0.07, 0.13, 0.19, 0.26] });

drawKegg({ key: 'F', names: keggF_names, impact: keggF_impact, logp: keggF_logp, layout: labelLayoutF,
	title: 'KEGG Topology Analysis (DAMs between (SDBT vs. SDCON down) and (KOBT vs. SDBT up))',
	titleX0: 1630, titleY: 2760, titleW: 1490,
	x0: 1840, x1: 2881, yb: 3620, yt: 2806, xDomain: [-0.05, 0.35], yDomain: [0, 4.5],
	xTicks: d3.range(-5, 36, 5).map(function (v) { return v / 100; }), yTicks: d3.range(0, 46, 5).map(function (v) { return v / 10; }),
	pMax: 0.24, pTicks: [0, 0.05, 0.1, 0.15, 0.2], impMax: 0.30, rRange: [6.5, 19.5],
	pKeyX: 2928, pKeyY0: 2837, pKeyY1: 3037,
	iKeyX: 2973, iKeyY: [3397, 3432, 3473, 3517], iKeyVals: [0.08, 0.15, 0.23, 0.30] });

</script>
</body>
</html>
